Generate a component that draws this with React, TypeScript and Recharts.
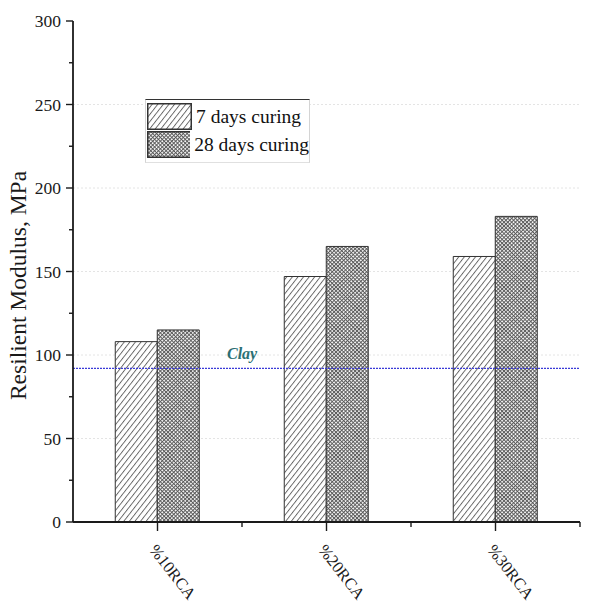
import React from 'react';
import {
  BarChart,
  Bar,
  XAxis,
  YAxis,
  CartesianGrid,
  ReferenceLine,
  Legend,
} from 'recharts';

// Resilient modulus of clay stabilised with recycled concrete aggregate (RCA)
const categories = ['%10RCA', '%20RCA', '%30RCA'];
const curing7 = [108, 147, 159];
const curing28 = [115, 165, 183];
const seriesNames = ['7 days curing', '28 days curing'];
const clayModulus = 92;
const yTicks = [0, 25, 50, 75, 100, 125, 150, 175, 200, 225, 250, 275, 300];
const gridValues = [50, 100, 150, 200, 250];

const data = categories.map((name, i) => ({
  name,
  d7: curing7[i],
  d28: curing28[i],
}));

const W = 594;
const H = 603;
const MARGIN = { top: 21, right: 14, left: 0, bottom: 0 };
const Y_AXIS_W = 73;
const X_AXIS_H = 81;
const PLOT_W = W - MARGIN.left - MARGIN.right - Y_AXIS_W;
const SERIF = '"Liberation Serif", "Times New Roman", serif';
const AXIS = '#1a1a1a';

const YTick = (props: any) => {
  const { x, y, payload } = props;
  const major = payload.value % 50 === 0;
  return (
    <g>
      <line x1={x - (major ? 7 : 4)} y1={y} x2={x} y2={y} stroke={AXIS} strokeWidth={1.4} />
      {major && (
        <text
          x={x - 12}
          y={y}
          textAnchor="end"
          dominantBaseline="central"
          fontFamily={SERIF}
          fontSize={17.5}
          fill="#1a1a1a"
        >
          {payload.value}
        </text>
      )}
    </g>
  );
};

const XTick = (props: any) => {
  const { x, y, payload } = props;
  const half = PLOT_W / categories.length / 2;
  const tx = x - 9;
  const ty = y + 28;
  return (
    <g>
      <line x1={x} y1={y} x2={x} y2={y + 9} stroke={AXIS} strokeWidth={1.4} />
      <line x1={x + half} y1={y} x2={x + half} y2={y + 5} stroke={AXIS} strokeWidth={1.4} />
      <text
        x={tx}
        y={ty}
        transform={`rotate(52 ${tx} ${ty})`}
        textAnchor="start"
        fontFamily={SERIF}
        fontSize={16.5}
        fill="#1a1a1a"
      >
        {payload.value}
      </text>
    </g>
  );
};

const YLabel = (props: any) => {
  const vb = props.viewBox || {};
  const cx = vb.x + 26;
  const cy = vb.y + vb.height / 2 + 14;
  return (
    <text
      x={cx}
      y={cy}
      transform={`rotate(-90 ${cx} ${cy})`}
      textAnchor="middle"
      fontFamily={SERIF}
      fontSize={23.5}
      fill="#1a1a1a"
    >
      Resilient Modulus, MPa
    </text>
  );
};

const ClayLabel = (props: any) => {
  const vb = props.viewBox || {};
  return (
    <text
      x={vb.x + 154}
      y={vb.y - 9}
      fontFamily={SERIF}
      fontStyle="italic"
      fontWeight="bold"
      fontSize={16}
      fill="#2b6f74"
    >
      Clay
    </text>
  );
};

const LegendBox = (props: any) => {
  const items = [...(props.payload || [])].sort(
    (a: any, b: any) => seriesNames.indexOf(a.value) - seriesNames.indexOf(b.value)
  );
  return (
    <div
      style={{
        width: 165,
        padding: '2px 0 4px 1px',
        borderTop: '1px solid #333',
        borderLeft: '1px solid #d4d4d4',
        borderRight: '1px solid #d4d4d4',
        borderBottom: '1px solid #e0e0e0',
        background: '#fff',
        boxSizing: 'border-box',
      }}
    >
      {items.map((it: any) => (
        <div
          key={it.value}
          style={{ display: 'flex', alignItems: 'center', height: 27, marginTop: 1 }}
        >
          <svg width={45} height={27} style={{ display: 'block' }}>
            <rect x={0.75} y={0.75} width={43.5} height={25.5} fill={it.color} stroke="#333" strokeWidth={1.5} />
          </svg>
          <span
            style={{
              fontFamily: SERIF,
              fontSize: 19.5,
              color: '#111',
              marginLeft: 4,
              lineHeight: '27px',
              whiteSpace: 'nowrap',
            }}
          >
            {it.value}
          </span>
        </div>
      ))}
    </div>
  );
};

export default function App() {
  return (
    <div style={{ position: 'absolute', left: 0, top: 0, width: W, height: H, background: '#fff' }}>
      <BarChart
        width={W}
        height={H}
        data={data}
        margin={MARGIN}
        barCategoryGap="25%"
        barGap={0}
      >
        <defs>
          <pattern
            id="hatch7"
            patternUnits="userSpaceOnUse"
            width={4.4}
            height={4.4}
            patternTransform="rotate(38)"
          >
            <rect width={4.4} height={4.4} fill="#fff" />
            <line x1={0.5} y1={0} x2={0.5} y2={4.4} stroke="#4a4a4a" strokeWidth={0.8} />
          </pattern>
          <pattern
            id="cross28"
            patternUnits="userSpaceOnUse"
            width={2.7}
            height={2.7}
            patternTransform="rotate(45)"
          >
            <rect width={2.7} height={2.7} fill="#fff" />
            <line x1={0.5} y1={0} x2={0.5} y2={2.7} stroke="#5a5a5a" strokeWidth={1} />
            <line x1={0} y1={0.5} x2={2.7} y2={0.5} stroke="#5a5a5a" strokeWidth={1} />
          </pattern>
        </defs>
        <CartesianGrid
          vertical={false}
          horizontalValues={gridValues}
          stroke="#e4e4e4"
          strokeDasharray="2 2"
        />
        <XAxis
          dataKey="name"
          height={X_AXIS_H}
          interval={0}
          tickLine={false}
          tickSize={0}
          tickMargin={0}
          tick={<XTick />}
          axisLine={{ stroke: AXIS, strokeWidth: 1.8 }}
        />
        <XAxis
          xAxisId="top"
          dataKey="name"
          orientation="top"
          height={0}
          tick={false}
          tickLine={false}
          axisLine={{ stroke: AXIS, strokeWidth: 1.8 }}
        />
        <YAxis
          width={Y_AXIS_W}
          domain={[0, 300]}
          ticks={yTicks}
          interval={0}
          tickLine={false}
          tickSize={0}
          tickMargin={0}
          tick={<YTick />}
          axisLine={{ stroke: AXIS, strokeWidth: 1.8 }}
          label={<YLabel />}
        />
        <YAxis
          yAxisId="right"
          orientation="right"
          width={0}
          domain={[0, 300]}
          tick={false}
          tickLine={false}
          axisLine={{ stroke: AXIS, strokeWidth: 1.8 }}
        />
        <Bar
          dataKey="d7"
          name={seriesNames[0]}
          fill="url(#hatch7)"
          stroke="#333"
          strokeWidth={1}
          isAnimationActive={false}
        />
        <Bar
          dataKey="d28"
          name={seriesNames[1]}
          fill="url(#cross28)"
          stroke="#333"
          strokeWidth={1}
          isAnimationActive={false}
        />
        <ReferenceLine
          y={clayModulus}
          stroke="#3a3ad8"
          strokeWidth={1.2}
          strokeDasharray="2 1"
          label={<ClayLabel />}
        />
        <Legend
          layout="vertical"
          align="center"
          verticalAlign="middle"
          content={<LegendBox />}
          wrapperStyle={{ left: 145, top: 99, width: 165 }}
        />
      </BarChart>
    </div>
  );
}
